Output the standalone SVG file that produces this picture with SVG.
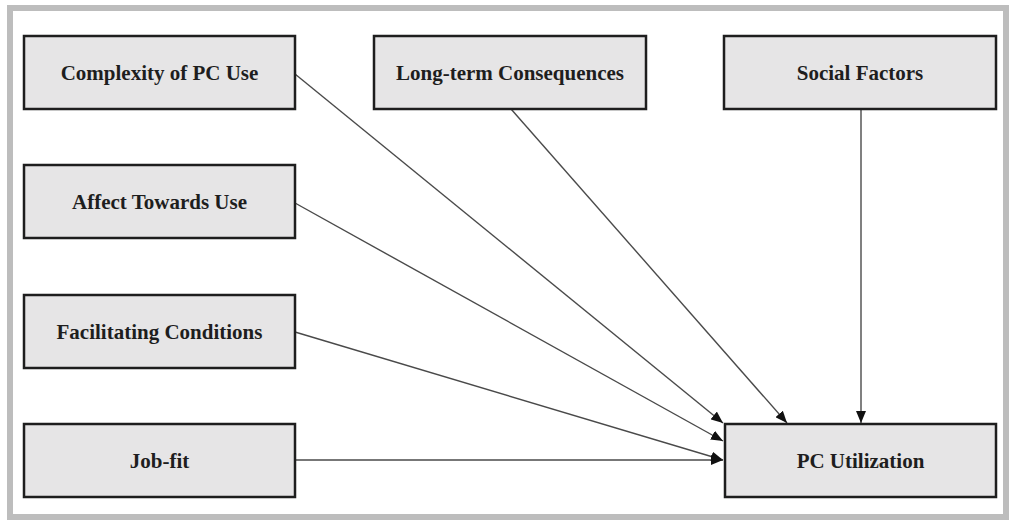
<svg xmlns="http://www.w3.org/2000/svg" width="1011" height="520" viewBox="0 0 1011 520">
<style>
.box{fill:#e6e5e6;stroke:#1e1e1e;stroke-width:2.5}
.lbl{font-family:"Liberation Serif",serif;font-weight:bold;font-size:21px;fill:#1e1e1e;text-anchor:middle}
.con{stroke:#4a4a4a;stroke-width:1.4;fill:none;marker-end:url(#ah)}
</style>
<defs>
<marker id="ah" viewBox="0 0 12 10" refX="12" refY="5" markerWidth="12" markerHeight="10" markerUnits="userSpaceOnUse" orient="auto">
<path d="M0,0 L12,5 L0,10 z" fill="#111"/>
</marker>
</defs>
<rect x="0" y="0" width="1011" height="520" fill="#ffffff"/>
<rect x="10" y="8" width="996" height="509" fill="none" stroke="#bdbdbd" stroke-width="6"/>
<g id="connectors">
<line class="con" x1="295" y1="74" x2="723" y2="423"/>
<line class="con" x1="295" y1="203" x2="723" y2="441"/>
<line class="con" x1="295" y1="332" x2="723" y2="460"/>
<line class="con" x1="295" y1="460" x2="723" y2="460"/>
<line class="con" x1="511" y1="109" x2="787" y2="423"/>
<line class="con" x1="861" y1="109" x2="861" y2="423"/>
</g>
<g id="complexity"><rect class="box" x="24" y="36" width="271" height="73"/><text class="lbl" x="159.5" y="80">Complexity of PC Use</text></g>
<g id="longterm"><rect class="box" x="374" y="36" width="272" height="73"/><text class="lbl" x="510" y="80">Long-term Consequences</text></g>
<g id="social"><rect class="box" x="724" y="36" width="272" height="73"/><text class="lbl" x="860" y="80">Social Factors</text></g>
<g id="affect"><rect class="box" x="24" y="165" width="271" height="73"/><text class="lbl" x="159.5" y="209">Affect Towards Use</text></g>
<g id="facilitating"><rect class="box" x="24" y="295" width="271" height="73"/><text class="lbl" x="159.5" y="339">Facilitating Conditions</text></g>
<g id="jobfit"><rect class="box" x="24" y="424" width="271" height="73"/><text class="lbl" x="159.5" y="468">Job-fit</text></g>
<g id="pcutil"><rect class="box" x="725" y="424" width="271" height="73"/><text class="lbl" x="860.5" y="468">PC Utilization</text></g>
</svg>
